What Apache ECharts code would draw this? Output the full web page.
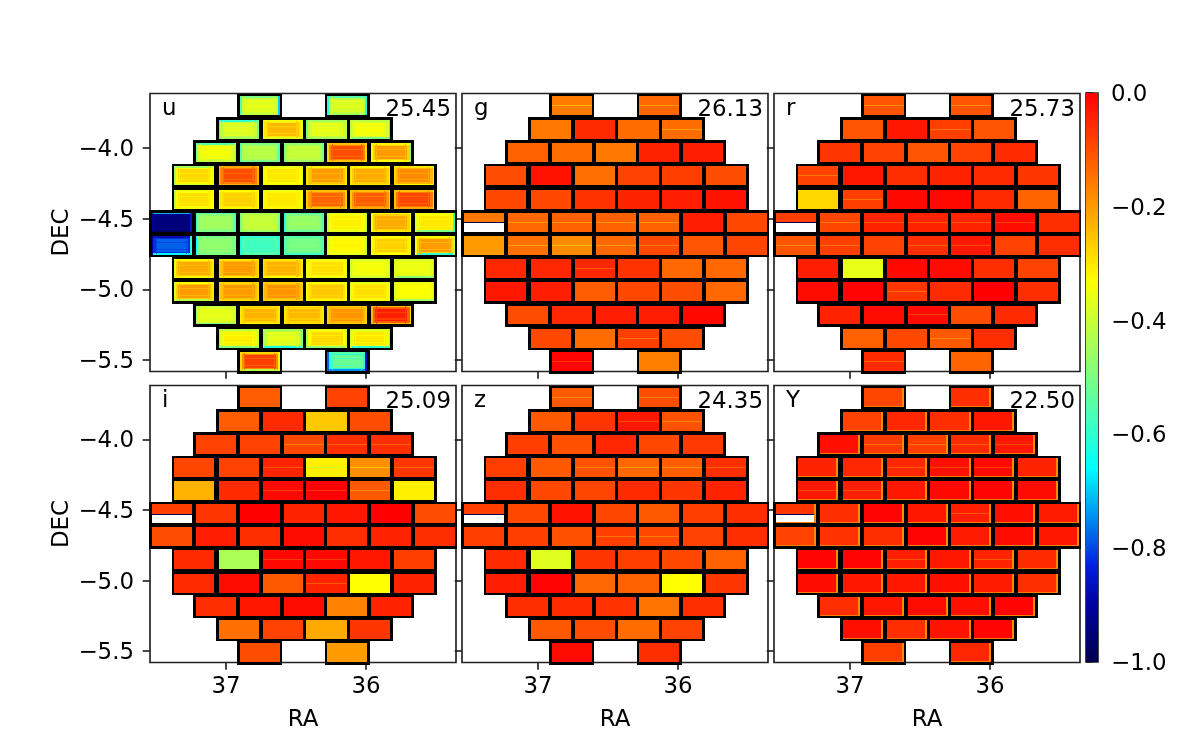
<!DOCTYPE html>
<html>
<head>
<meta charset="utf-8">
<title>Depth maps</title>
<script src="https://cdn.jsdelivr.net/npm/echarts@6/dist/echarts.min.js"></script>
<style>
html, body { margin: 0; padding: 0; background: #fff; }
#chart { width: 1200px; height: 750px; }
</style>
</head>
<body>
<div id="chart"></div>
<script>
const bands = ['u', 'g', 'r', 'i', 'z', 'Y'];
const depths = ['25.45', '26.13', '25.73', '25.09', '24.35', '22.50'];

// CCD layout in sky coordinates, one entry per row from north to south
const rowDec = [-3.705, -3.869, -4.033, -4.199, -4.363, -4.525, -4.690, -4.852, -5.017, -5.181, -5.345, -5.511];
const rowRa = [
    [36.759, 36.134],
    [36.91, 36.596, 36.282, 35.969],
    [37.074, 36.759, 36.445, 36.134, 35.819],
    [37.229, 36.91, 36.596, 36.282, 35.969, 35.654],
    [37.229, 36.91, 36.596, 36.282, 35.969, 35.654],
    [37.388, 37.074, 36.759, 36.445, 36.134, 35.819, 35.507],
    [37.388, 37.074, 36.759, 36.445, 36.134, 35.819, 35.507],
    [37.229, 36.91, 36.596, 36.282, 35.969, 35.654],
    [37.229, 36.91, 36.596, 36.282, 35.969, 35.654],
    [37.074, 36.759, 36.445, 36.134, 35.819],
    [36.91, 36.596, 36.282, 35.969],
    [36.759, 36.134]
];

// u band: core, mid, left, right, top, bottom for each CCD
const uCells = [
    [[-.36,-.4,-.55,-.7,-.5,-.42], [-.37,-.42,-.6,-.62,-.55,-.45]],
    [[-.37,-.42,-.55,-.5,-.6,-.45], [-.24,-.3,-.36,-.36,-.35,-.37], [-.36,-.4,-.5,-.42,-.45,-.45], [-.34,-.38,-.42,-.6,-.42,-.5]],
    [[-.34,-.38,-.5,-.42,-.55,-.4], [-.42,-.45,-.55,-.55,-.5,-.5], [-.4,-.43,-.5,-.5,-.48,-.45], [-.1,-.17,-.28,-.28,-.25,-.25], [-.2,-.27,-.33,-.5,-.32,-.33]],
    [[-.28,-.33,-.45,-.36,-.45,-.38], [-.1,-.17,-.24,-.24,-.22,-.22], [-.3,-.33,-.35,-.36,-.36,-.34], [-.2,-.26,-.3,-.3,-.32,-.3], [-.22,-.27,-.3,-.32,-.32,-.3], [-.18,-.24,-.28,-.42,-.3,-.32]],
    [[-.29,-.33,-.42,-.33,-.35,-.34], [-.27,-.3,-.33,-.33,-.33,-.32], [-.3,-.32,-.34,-.34,-.35,-.32], [-.13,-.2,-.27,-.27,-.25,-.25], [-.12,-.19,-.26,-.27,-.25,-.22], [-.09,-.16,-.25,-.3,-.25,-.22]],
    [[-.95,-.93,-.9,-.85,-.72,-.98], [-.45,-.48,-.58,-.55,-.55,-.5], [-.4,-.42,-.5,-.5,-.44,-.45], [-.46,-.5,-.6,-.55,-.55,-.52], [-.31,-.34,-.4,-.4,-.36,-.36], [-.22,-.27,-.33,-.33,-.33,-.3], [-.3,-.33,-.37,-.6,-.34,-.5]],
    [[-.78,-.82,-.92,-.6,-.88,-.65], [-.47,-.5,-.65,-.5,-.5,-.5], [-.58,-.55,-.62,-.6,-.6,-.55], [-.5,-.53,-.55,-.55,-.55,-.58], [-.32,-.34,-.38,-.4,-.36,-.36], [-.27,-.31,-.33,-.35,-.33,-.33], [-.2,-.27,-.33,-.42,-.33,-.6]],
    [[-.22,-.27,-.36,-.3,-.33,-.32], [-.2,-.25,-.28,-.28,-.3,-.3], [-.23,-.27,-.3,-.3,-.3,-.33], [-.29,-.32,-.35,-.36,-.35,-.35], [-.34,-.36,-.4,-.42,-.38,-.4], [-.35,-.37,-.38,-.5,-.38,-.48]],
    [[-.2,-.27,-.38,-.3,-.33,-.42], [-.2,-.25,-.28,-.28,-.28,-.28], [-.19,-.24,-.27,-.27,-.27,-.27], [-.26,-.29,-.33,-.33,-.33,-.32], [-.29,-.32,-.36,-.36,-.36,-.34], [-.33,-.35,-.38,-.45,-.35,-.45]],
    [[-.36,-.38,-.45,-.4,-.42,-.5], [-.23,-.28,-.3,-.3,-.3,-.33], [-.24,-.28,-.3,-.3,-.3,-.3], [-.19,-.24,-.27,-.27,-.27,-.27], [-.04,-.12,-.24,-.3,-.25,-.25]],
    [[-.31,-.36,-.48,-.4,-.42,-.5], [-.36,-.42,-.45,-.5,-.45,-.62], [-.28,-.33,-.45,-.38,-.35,-.48], [-.3,-.35,-.38,-.5,-.38,-.6]],
    [[-.08,-.18,-.28,-.32,-.28,-.42], [-.52,-.62,-.78,-.88,-.55,-.75]]
];
// the readout banding seen inside every u CCD, as fractions of the half width / half height
const uBandRa = [-.72, .74];
const uBandDec = [-.42, .3];

const gValues = [
    [-.16, -.135],
    [-.155, -.055, -.14, -.14],
    [-.125, -.14, -.155, -.045, -.04],
    [-.10, -.025, -.145, -.085, -.08, -.10],
    [-.095, -.095, -.065, -.045, -.04, -.025],
    [-.155, -.135, -.125, -.125, -.125, -.04, -.095],
    [-.20, -.145, -.18, -.135, -.095, -.11, -.09],
    [-.05, -.05, -.05, -.065, -.135, -.135],
    [-.03, -.04, -.12, -.095, -.10, -.135],
    [-.10, -.05, -.04, -.04, -.01],
    [-.095, -.14, -.08, -.10],
    [-.005, -.165]
];
const rValues = [
    [-.11, -.11],
    [-.11, -.03, -.08, -.11],
    [-.07, -.085, -.11, -.085, -.055],
    [-.085, -.03, -.06, -.045, -.055, -.07],
    [-.28, -.08, -.01, -.01, -.055, -.13],
    [-.08, -.09, -.045, -.045, -.045, -.015, -.06],
    [-.11, -.08, -.085, -.06, -.03, -.085, -.06],
    [-.04, -.36, -.01, -.015, -.06, -.085],
    [-.015, -.005, -.07, -.055, 0, -.06],
    [-.045, -.015, -.015, -.10, -.055],
    [-.125, -.095, -.115, -.06],
    [-.055, -.13]
];
const iValues = [
    [-.12, -.085],
    [-.12, -.055, -.26, -.10],
    [-.085, -.085, -.095, -.06, -.06],
    [-.09, -.085, -.045, -.31, -.185, -.07],
    [-.23, -.055, -.01, 0, -.115, -.31],
    [-.08, -.07, 0, -.045, -.03, 0, -.10],
    [-.10, -.04, -.06, -.015, -.06, -.045, -.06],
    [-.055, -.44, -.01, -.01, -.03, -.08],
    [-.055, -.015, -.115, -.045, -.33, -.045],
    [-.06, -.03, -.015, -.17, -.045],
    [-.145, -.085, -.22, -.07],
    [-.10, -.20]
];
const zValues = [
    [-.115, -.10],
    [-.115, -.07, -.03, -.105],
    [-.08, -.105, -.05, -.095, -.075],
    [-.08, -.115, -.105, -.135, -.12, -.06],
    [-.06, -.095, -.09, -.055, -.07, -.045],
    [-.08, -.095, -.025, -.09, -.115, -.08, -.06],
    [-.08, -.08, -.105, -.08, -.095, -.085, -.06],
    [-.055, -.37, -.07, -.08, -.095, -.125],
    [-.04, -.005, -.135, -.125, -.33, -.07],
    [-.06, -.055, -.065, -.15, -.06],
    [-.115, -.10, -.14, -.085],
    [-.015, -.06]
];
const yValues = [
    [-.09, -.06],
    [-.085, -.05, -.06, -.03],
    [-.02, -.075, -.08, -.055, -.03],
    [-.045, -.05, -.05, -.02, -.01, -.045],
    [-.03, -.04, -.03, -.01, -.005, -.015],
    [-.07, -.06, -.005, -.03, -.04, -.02, -.035],
    [-.085, -.065, -.06, -.005, -.035, -.015, -.03],
    [-.005, -.005, -.04, -.03, -.045, -.055],
    [-.015, -.03, -.03, -.02, -.035, -.06],
    [-.06, -.03, -.015, -.02, -.005],
    [-.02, -.06, -.025, -.005],
    [-.08, -.05]
];

// CCDs with a lighter line along the amplifier boundary: [row, column]
const gStripes = [[0,0],[0,1],[1,3],[5,1],[5,2],[5,3],[5,4],[6,1],[6,2],[6,3],[6,4],[7,2],[10,2],[11,0]];
const rStripes = [[0,0],[0,1],[1,2],[3,0],[4,1],[5,1],[5,2],[5,3],[5,4],[5,5],[6,0],[6,1],[6,3],[6,4],[8,2],[9,2],[10,2],[11,0]];
const iStripes = [[2,2],[2,3],[2,4],[3,2],[3,3],[3,4],[3,5],[4,2],[4,3],[4,4],[7,2],[7,3],[8,3]];
const zStripes = [[0,0],[0,1],[1,2],[1,3],[3,2],[3,3],[3,4],[3,5],[6,3],[6,4]];
const yStripes = [[2,1],[2,2],[2,3],[2,4],[3,2],[3,3],[3,4],[4,0],[4,1],[5,4],[7,2],[7,4]];

const colorStops = [
    [-1, '#000050'], [-.9, '#0000a0'], [-.83, '#0020e0'], [-.66, '#00ffff'],
    [-.33, '#ffff00'], [0, '#ff0000']
];
const decTicks = [-5.5, -5, -4.5, -4];
const raTicks = [36, 37];

const ccdWidth = 0.286, ccdHeight = 0.134;
const boxWidth = 0.32, boxHeight = 0.17;
const raMin = 35.357, raMax = 37.543;
const decMin = -5.58, decMax = -3.617;
const font = 'DejaVu Sans', fontSize = 22.9, spine = '#222';

const valueTables = [null, gValues, rValues, iValues, zValues, yValues];
const stripeTables = [[], gStripes, rStripes, iStripes, zStripes, yStripes];

function valueColor(v) {
    v = Math.max(-1, Math.min(0, v));
    for (let i = 1; i < colorStops.length; i++) {
        if (v <= colorStops[i][0]) {
            const a = colorStops[i - 1], b = colorStops[i];
            const t = (v - a[0]) / (b[0] - a[0]);
            const ca = echarts.color.parse(a[1]), cb = echarts.color.parse(b[1]);
            return 'rgb(' + [0, 1, 2].map(k => Math.round(ca[k] + (cb[k] - ca[k]) * t)).join(',') + ')';
        }
    }
    return colorStops[colorStops.length - 1][1];
}

function box(api, x0, y0, x1, y1, fill) {
    const a = api.coord([x0, y0]), b = api.coord([x1, y1]);
    const left = Math.round(Math.min(a[0], b[0])), right = Math.round(Math.max(a[0], b[0]));
    const top = Math.round(Math.min(a[1], b[1])), bottom = Math.round(Math.max(a[1], b[1]));
    return {
        type: 'rect',
        shape: { x: left, y: top, width: right - left, height: bottom - top },
        style: { fill: fill }
    };
}

function renderCcd(panel, params, api) {
    const ra = api.value(0), dec = api.value(1), row = api.value(2), col = api.value(3);
    const w = ccdWidth / 2, h = ccdHeight / 2;
    const kids = [box(api, ra - boxWidth / 2, dec - boxHeight / 2, ra + boxWidth / 2, dec + boxHeight / 2, '#000')];
    if (panel === 0) {
        const c = uCells[row][col];
        const rim = 0.013;
        kids.push(box(api, ra - w, dec - h, ra + w, dec + h, valueColor(c[1])));
        kids.push(box(api, ra - w, dec + h - rim, ra + w, dec + h, valueColor(c[4])));
        kids.push(box(api, ra - w, dec - h, ra + w, dec - h + rim, valueColor(c[5])));
        kids.push(box(api, ra + w - rim, dec - h, ra + w, dec + h, valueColor(c[2])));
        kids.push(box(api, ra - w, dec - h, ra - w + rim, dec + h, valueColor(c[3])));
        kids.push(box(api, ra - w * 0.8, dec - h * 0.68, ra + w * 0.8, dec + h * 0.68, valueColor(c[0])));
        const band = valueColor(c[0] * 0.5 + c[1] * 0.5);
        uBandDec.forEach(f => {
            kids.push(box(api, ra - w * 0.8, dec + h * f - 0.004, ra + w * 0.8, dec + h * f + 0.004, band));
        });
        uBandRa.forEach(f => {
            kids.push(box(api, ra + w * f - 0.004, dec - h * 0.9, ra + w * f + 0.004, dec + h * 0.9, band));
        });
    } else {
        const v = valueTables[panel][row][col];
        // the first CCD of row 5 only has its upper half
        if (row === 5 && col === 0) {
            kids.push(box(api, ra - w, dec - h, ra + w, dec + h, '#fff'));
            kids.push(box(api, ra - w, dec, ra + w, dec + h, valueColor(v)));
            kids.push(box(api, ra - w, dec - 0.007, ra + w, dec, colorStops[0][1]));
        } else {
            kids.push(box(api, ra - w, dec - h, ra + w, dec + h, valueColor(v)));
            if (stripeTables[panel].some(s => s[0] === row && s[1] === col)) {
                kids.push(box(api, ra - w, dec - 0.0035, ra + w, dec + 0.0035, valueColor(v - 0.07)));
            }
        }
        if (panel === 5) {
            kids.push(box(api, ra - w, dec - h, ra - w + 0.014, dec + h, valueColor(-0.18)));
            kids.push(box(api, ra - w, dec - h, ra + w, dec - h + 0.007, valueColor(-0.16)));
        }
    }
    return { type: 'group', children: kids };
}

function minusLabel(value) {
    return value.toFixed(1).replace('-', '\u2212');
}

const ccdData = [];
rowRa.forEach((ras, row) => {
    ras.forEach((ra, col) => {
        ccdData.push([ra, rowDec[row], row, col]);
    });
});

const colX = [150, 462, 774];
const rowY = [[93.5, 278], [385.5, 277]];
const grid = [], xAxis = [], yAxis = [], series = [], graphic = [];

bands.forEach((band, i) => {
    const col = i % 3, row = i < 3 ? 0 : 1;
    grid.push({
        left: colX[col], width: 306, top: rowY[row][0], height: rowY[row][1],
        show: true, borderColor: spine, borderWidth: 1.67, backgroundColor: '#fff'
    });
    xAxis.push({
        type: 'value', gridIndex: i, inverse: true, min: raMin, max: raMax,
        name: row === 1 ? 'RA' : '', nameLocation: 'middle', nameGap: 46,
        nameTextStyle: { fontFamily: font, fontSize: fontSize, color: '#000' },
        axisLine: { show: false }, splitLine: { show: false },
        axisTick: { show: true, length: 7.3, customValues: raTicks, lineStyle: { color: spine, width: 1.67 } },
        axisLabel: {
            show: row === 1, customValues: raTicks, margin: 13,
            fontFamily: font, fontSize: fontSize, color: '#000',
            formatter: v => String(v)
        }
    });
    yAxis.push({
        type: 'value', gridIndex: i, min: decMin, max: decMax,
        name: col === 0 ? 'DEC' : '', nameLocation: 'middle', nameGap: 76, nameRotate: 90,
        nameTextStyle: { fontFamily: font, fontSize: fontSize, color: '#000' },
        axisLine: { show: false }, splitLine: { show: false },
        axisTick: { show: true, length: 7.3, customValues: decTicks, lineStyle: { color: spine, width: 1.67 } },
        axisLabel: {
            show: col === 0, customValues: decTicks, margin: 16,
            verticalAlign: 'top', lineHeight: 4,
            fontFamily: font, fontSize: fontSize, color: '#000',
            formatter: minusLabel
        }
    });
    series.push({
        type: 'custom', xAxisIndex: i, yAxisIndex: i, silent: true,
        renderItem: (params, api) => renderCcd(i, params, api),
        encode: { x: 0, y: 1 },
        data: ccdData
    });
    graphic.push({
        type: 'text', left: colX[col] + 12, top: rowY[row][0] + 4, z: 10,
        style: { text: band, font: fontSize + 'px "' + font + '"', fill: '#000' }
    });
    graphic.push({
        type: 'text', right: 1200 - colX[col] - 301, top: rowY[row][0] + 5, z: 10,
        style: { text: depths[i], font: fontSize + 'px "' + font + '"', fill: '#000' }
    });
});

// colorbar
grid.push({
    left: 1086, width: 12, top: 93, height: 569,
    show: true, borderColor: spine, borderWidth: 1.67, backgroundColor: 'transparent'
});
xAxis.push({ type: 'value', gridIndex: 6, min: 0, max: 1, show: false });
yAxis.push({
    type: 'value', gridIndex: 6, min: -1, max: 0, interval: 0.2, position: 'right',
    axisLine: { show: false }, splitLine: { show: false },
    axisTick: { show: true, length: 7.3, lineStyle: { color: spine, width: 1.67 } },
    axisLabel: {
        margin: 13, verticalAlign: 'top', lineHeight: 4,
        fontFamily: font, fontSize: fontSize, color: '#000',
        formatter: minusLabel
    }
});
series.push({
    type: 'custom', xAxisIndex: 6, yAxisIndex: 6, silent: true,
    encode: { x: 0, y: 1 },
    data: [[0, -1]],
    renderItem: (params, api) => {
        const shape = box(api, 0, -1, 1, 0, '#000');
        shape.style.fill = new echarts.graphic.LinearGradient(0, 1, 0, 0, colorStops.map(s => ({
            offset: s[0] + 1, color: s[1]
        })));
        return shape;
    }
});

const chart = echarts.init(document.getElementById('chart'), null, { renderer: 'canvas' });
chart.setOption({
    animation: false,
    backgroundColor: '#fff',
    grid: grid,
    xAxis: xAxis,
    yAxis: yAxis,
    series: series,
    graphic: graphic
});
</script>
</body>
</html>
